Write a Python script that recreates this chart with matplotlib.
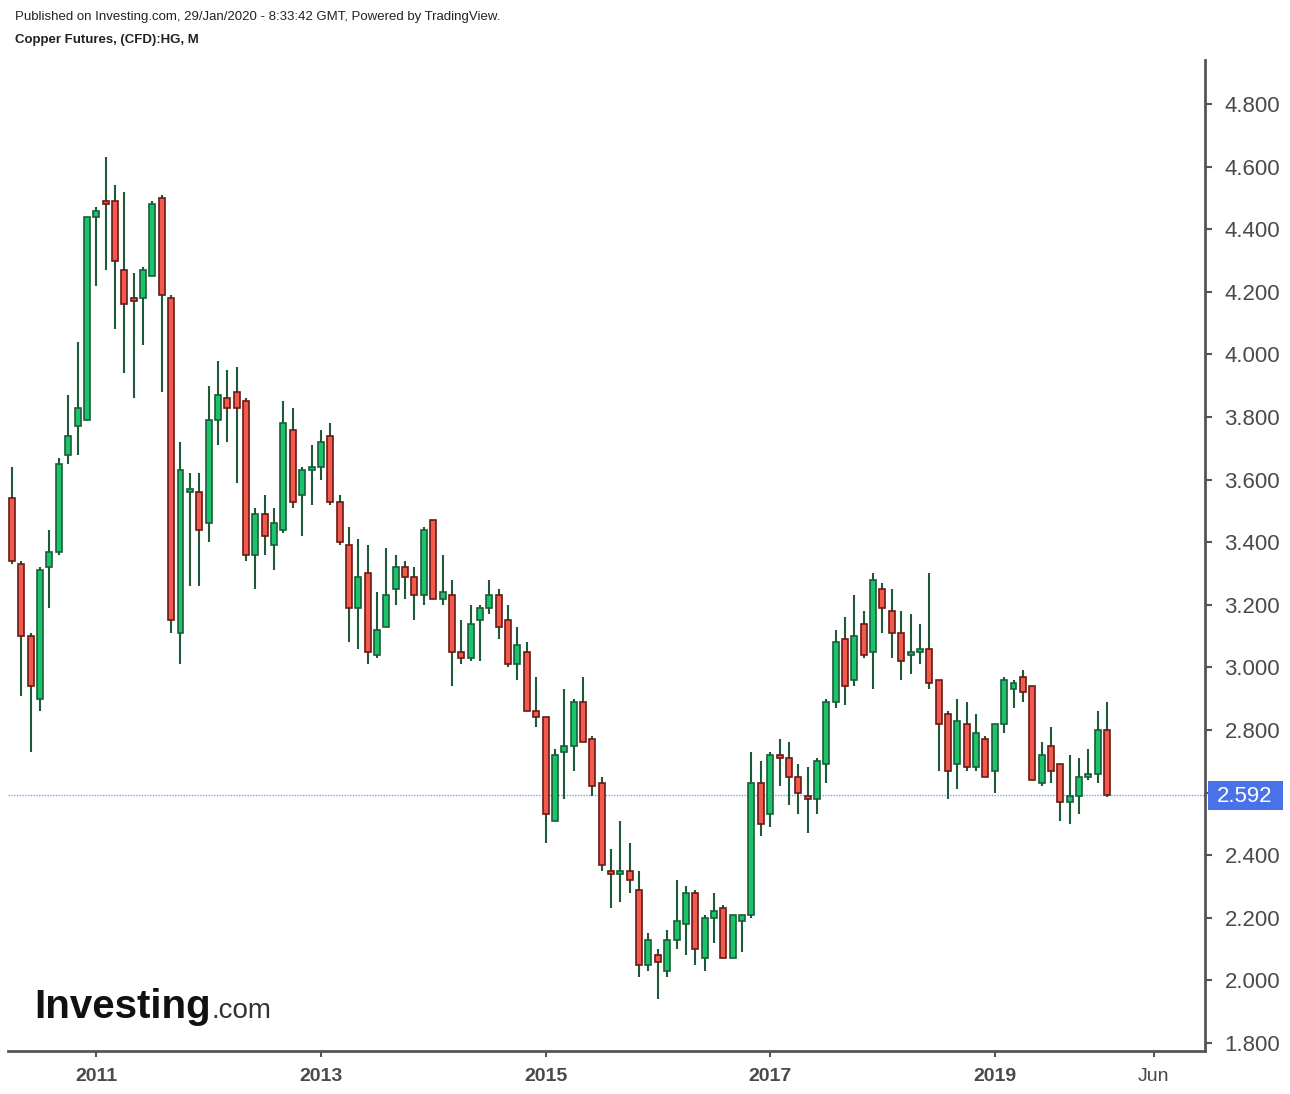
import numpy as np
import matplotlib.pyplot as plt
from matplotlib.patches import Rectangle

# Monthly candles, Apr 2010 .. Jan 2020
start_year, start_month = 2010, 4

opens = [
    3.54, 3.33, 3.10, 2.90, 3.32, 3.37, 3.68, 3.77, 3.79,
    4.44, 4.49, 4.49, 4.27, 4.18, 4.18, 4.25, 4.50, 4.18, 3.11, 3.56, 3.56,
    3.46, 3.79, 3.86, 3.88, 3.85, 3.36, 3.49, 3.39, 3.44, 3.76, 3.55, 3.63,
    3.64, 3.74, 3.53, 3.39, 3.19, 3.30, 3.04, 3.13, 3.25, 3.32, 3.29, 3.23,
    3.47, 3.22, 3.23, 3.05, 3.03, 3.15, 3.19, 3.23, 3.15, 3.01, 3.05, 2.86,
    2.84, 2.51, 2.73, 2.75, 2.89, 2.77, 2.63, 2.35, 2.34, 2.35, 2.29, 2.05,
    2.08, 2.03, 2.13, 2.18, 2.28, 2.07, 2.20, 2.23, 2.07, 2.19, 2.21, 2.63,
    2.53, 2.72, 2.71, 2.65, 2.59, 2.58, 2.69, 2.89, 3.09, 2.96, 3.14, 3.05,
    3.25, 3.18, 3.11, 3.04, 3.05, 3.06, 2.96, 2.85, 2.69, 2.82, 2.68, 2.77,
    2.67, 2.82, 2.93, 2.97, 2.94, 2.63, 2.75, 2.69, 2.57, 2.59, 2.65, 2.66,
    2.80]
highs = [
    3.64, 3.34, 3.11, 3.32, 3.44, 3.67, 3.87, 4.04, 4.44,
    4.47, 4.63, 4.54, 4.52, 4.26, 4.28, 4.49, 4.51, 4.19, 3.72, 3.62, 3.62,
    3.90, 3.98, 3.95, 3.96, 3.86, 3.51, 3.55, 3.51, 3.85, 3.83, 3.64, 3.71,
    3.76, 3.78, 3.55, 3.45, 3.41, 3.39, 3.24, 3.38, 3.36, 3.34, 3.32, 3.45,
    3.47, 3.36, 3.28, 3.15, 3.20, 3.20, 3.28, 3.25, 3.20, 3.13, 3.08, 2.97,
    2.84, 2.74, 2.93, 2.90, 2.97, 2.78, 2.65, 2.42, 2.51, 2.44, 2.35, 2.15,
    2.10, 2.16, 2.32, 2.30, 2.29, 2.21, 2.28, 2.24, 2.21, 2.21, 2.73, 2.70,
    2.73, 2.77, 2.76, 2.69, 2.68, 2.71, 2.90, 3.12, 3.16, 3.23, 3.18, 3.30,
    3.27, 3.25, 3.18, 3.17, 3.14, 3.30, 2.96, 2.86, 2.90, 2.89, 2.85, 2.78,
    2.82, 2.97, 2.96, 2.99, 2.94, 2.76, 2.81, 2.69, 2.72, 2.71, 2.74, 2.86,
    2.89]
lows = [
    3.33, 2.91, 2.73, 2.86, 3.19, 3.36, 3.65, 3.68, 3.79,
    4.22, 4.27, 4.08, 3.94, 3.86, 4.03, 4.25, 3.88, 3.11, 3.01, 3.26, 3.26,
    3.40, 3.71, 3.72, 3.59, 3.34, 3.25, 3.36, 3.31, 3.43, 3.51, 3.42, 3.52,
    3.60, 3.52, 3.39, 3.08, 3.06, 3.01, 3.03, 3.13, 3.20, 3.22, 3.15, 3.20,
    3.22, 3.20, 2.94, 3.01, 3.02, 3.02, 3.17, 3.09, 3.00, 2.96, 2.86, 2.81,
    2.44, 2.51, 2.58, 2.67, 2.76, 2.59, 2.35, 2.23, 2.25, 2.28, 2.01, 2.03,
    1.94, 2.01, 2.10, 2.08, 2.05, 2.03, 2.12, 2.07, 2.07, 2.09, 2.20, 2.46,
    2.49, 2.62, 2.56, 2.53, 2.47, 2.53, 2.63, 2.87, 2.88, 2.94, 3.03, 2.93,
    3.11, 3.03, 2.96, 2.98, 3.01, 2.93, 2.67, 2.58, 2.61, 2.67, 2.67, 2.65,
    2.60, 2.79, 2.87, 2.89, 2.64, 2.62, 2.63, 2.51, 2.50, 2.53, 2.64, 2.63,
    2.585]
closes = [
    3.34, 3.10, 2.94, 3.31, 3.37, 3.65, 3.74, 3.83, 4.44,
    4.46, 4.48, 4.30, 4.16, 4.17, 4.27, 4.48, 4.19, 3.15, 3.63, 3.57, 3.44,
    3.79, 3.87, 3.83, 3.83, 3.36, 3.49, 3.42, 3.46, 3.78, 3.53, 3.63, 3.64,
    3.72, 3.53, 3.40, 3.19, 3.29, 3.05, 3.12, 3.23, 3.32, 3.29, 3.23, 3.44,
    3.22, 3.24, 3.05, 3.03, 3.14, 3.19, 3.23, 3.13, 3.01, 3.07, 2.86, 2.84,
    2.53, 2.72, 2.75, 2.89, 2.76, 2.62, 2.37, 2.34, 2.35, 2.32, 2.05, 2.13,
    2.06, 2.13, 2.19, 2.28, 2.10, 2.20, 2.22, 2.07, 2.21, 2.21, 2.63, 2.50,
    2.72, 2.71, 2.65, 2.60, 2.58, 2.70, 2.89, 3.08, 2.94, 3.10, 3.04, 3.28,
    3.19, 3.11, 3.02, 3.05, 3.06, 2.95, 2.82, 2.67, 2.83, 2.68, 2.79, 2.65,
    2.82, 2.96, 2.95, 2.92, 2.64, 2.72, 2.67, 2.57, 2.59, 2.65, 2.66, 2.80,
    2.592]

last_price = 2.592
y_ticks = [1.8, 2.0, 2.2, 2.4, 2.6, 2.8, 3.0, 3.2, 3.4, 3.6, 3.8, 4.0, 4.2, 4.4, 4.6, 4.8]
x_tick_dates = [(2011, 1), (2013, 1), (2015, 1), (2017, 1), (2019, 1), (2020, 6)]
x_tick_labels = ['2011', '2013', '2015', '2017', '2019', 'Jun']

plt.rcParams['font.family'] = ['Liberation Sans', 'DejaVu Sans']

o = np.array(opens)
h = np.array(highs)
l = np.array(lows)
c = np.array(closes)
x = np.arange(len(o))

up_face, up_edge = '#19c46a', '#1d5c3a'
dn_face, dn_edge = '#f25a4c', '#6a1a17'
wick_col = '#1f5a38'

fig = plt.figure(figsize=(12.9, 10.94), dpi=100)
ax = fig.add_axes([8 / 1290, 1 - 1051 / 1094, 1197 / 1290, 991 / 1094])

# wicks
ax.vlines(x, l, h, color=wick_col, linewidth=1.5, zorder=2)

# bodies
up = c >= o
bottom = np.minimum(o, c)
height = np.maximum(np.abs(c - o), 0.008)
bottom = np.where(np.abs(c - o) < 0.008, (o + c) / 2 - 0.004, bottom)
ax.bar(x[up], height[up], bottom=bottom[up], width=0.64,
       color=up_face, edgecolor=up_edge, linewidth=1.2, zorder=3)
ax.bar(x[~up], height[~up], bottom=bottom[~up], width=0.64,
       color=dn_face, edgecolor=dn_edge, linewidth=1.2, zorder=3)

# last price line
ax.axhline(last_price, color='#7f9ef3', linestyle=(0, (1, 1)), linewidth=1, zorder=1)

ax.set_xlim(-0.43, 127.46)
ax.set_ylim(1.774, 4.941)

tick_pos = [(yy - start_year) * 12 + (mm - start_month) for yy, mm in x_tick_dates]
ax.set_xticks(tick_pos)
ax.set_xticklabels(x_tick_labels)
for lbl in ax.get_xticklabels():
    if lbl.get_text() != 'Jun':
        lbl.set_fontweight('bold')
ax.tick_params(axis='x', length=4, width=1.5, color='#555555', labelsize=14,
               labelcolor='#4a4a4a', pad=8)

ax.yaxis.tick_right()
ax.set_yticks(y_ticks)
# the 2.600 label sits under the last-price tag, so it is not shown
ax.set_yticklabels(['' if abs(v - 2.6) < 1e-9 else '%.3f' % v for v in y_ticks])
ax.tick_params(axis='y', length=5, width=1.5, color='#555555', labelsize=16,
               labelcolor='#4a4a4a', pad=9)

for s in ['left', 'top']:
    ax.spines[s].set_visible(False)
for s in ['right', 'bottom']:
    ax.spines[s].set_color('#555555')
    ax.spines[s].set_linewidth(2)

# the lowest price label is cut off at the bottom of the plot area
fig.patches.append(Rectangle((1207 / 1290, 0), 83 / 1290, 1 - 1052 / 1094,
                             transform=fig.transFigure, facecolor='white',
                             edgecolor='none'))

# price tag on the axis
fig.patches.append(Rectangle((1208 / 1290, 1 - 810 / 1094), 75 / 1290, 29 / 1094,
                             transform=fig.transFigure, facecolor='#4a72e8',
                             edgecolor='none'))
fig.text(1245 / 1290, 1 - 796 / 1094, '%.3f' % last_price, color='white',
         fontsize=16, ha='center', va='center')

# header
fig.text(15 / 1290, 1 - 17 / 1094,
         'Published on Investing.com, 29/Jan/2020 - 8:33:42 GMT, Powered by TradingView.',
         fontsize=9.5, color='#222222', va='center')
fig.text(15 / 1290, 1 - 40 / 1094, 'Copper Futures, (CFD):HG, M',
         fontsize=9.5, fontweight='bold', color='#222222', va='center')

# logo
fig.text(34 / 1290, 1 - 1018 / 1094, 'Investing', fontsize=29, fontweight='bold',
         color='#111111', va='baseline')
fig.text(212 / 1290, 1 - 1018 / 1094, '.com', fontsize=20, color='#333333',
         va='baseline')

fig.savefig('out.png', dpi=100)
